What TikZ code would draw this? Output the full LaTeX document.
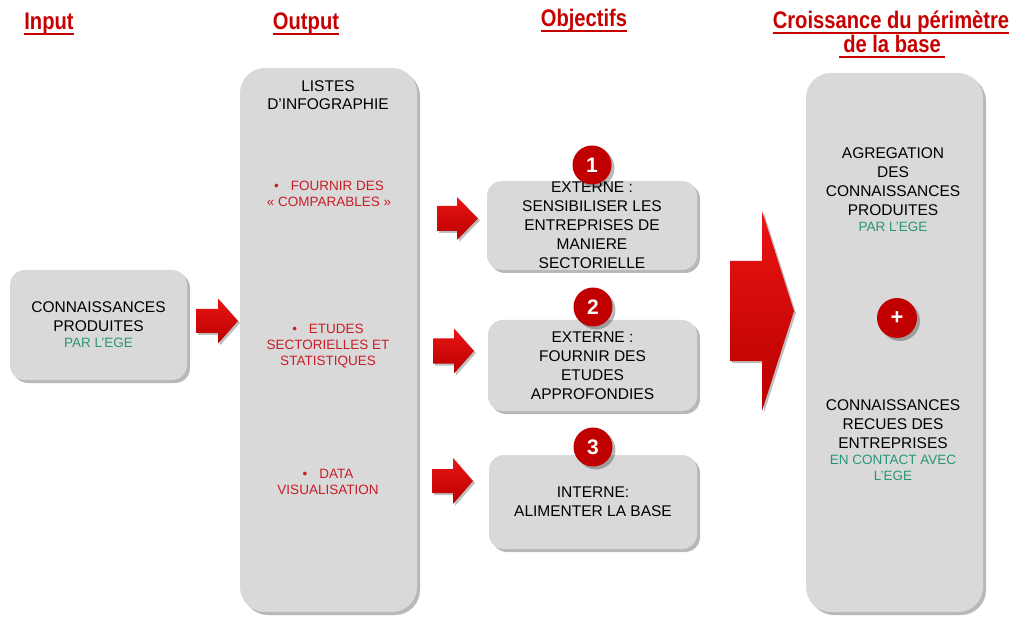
\documentclass[tikz,border=0pt]{standalone}
\usepackage{fontspec}
\setmainfont{Liberation Sans}
\newfontfamily\titlefont[FakeStretch=0.84]{Liberation Sans}
\usetikzlibrary{shadows,calc}
\definecolor{boxgray}{RGB}{217,217,217}
\definecolor{titlered}{RGB}{200,0,0}
\definecolor{txtred}{RGB}{200,30,40}
\definecolor{egegreen}{RGB}{40,150,120}
\definecolor{circred}{RGB}{192,0,0}
\definecolor{arrlight}{RGB}{235,20,20}
\definecolor{arrdark}{RGB}{185,0,0}
\newcommand\egetxt[1]{{\color{egegreen}\fontsize{13.5}{16}\selectfont #1}}
\newcommand\blockarrow[5]{%
  \path[arrowshape] ($(#1)+(0,-#3)$) -- ($(#2)+(-#5,-#3)$) -- ($(#2)+(-#5,-#4)$)
    -- (#2) -- ($(#2)+(-#5,#4)$) -- ($(#2)+(-#5,#3)$) -- ($(#1)+(0,#3)$) -- cycle;}
\tikzset{
  boxshadow/.style={drop shadow={shadow xshift=3pt, shadow yshift=-3pt, fill=black, opacity=0.28}},
  graybox/.style={fill=boxgray, boxshadow, align=center, inner sep=0pt,
    font=\fontsize{15.5}{19}\selectfont},
  plaintxt/.style={align=center, inner sep=0pt, font=\fontsize{15.5}{19}\selectfont},
  redtxt/.style={align=center, inner sep=0pt, text=txtred, font=\fontsize{13.5}{16}\selectfont},
  titletxt/.style={inner sep=0pt, anchor=base, text=titlered,
    font=\titlefont\bfseries\fontsize{24}{24}\selectfont},
  titleline/.style={titlered, line width=2pt},
  arrowshape/.style={top color=arrlight, bottom color=arrdark, draw=none,
    drop shadow={shadow xshift=2pt, shadow yshift=-2pt, fill=black, opacity=0.25}},
  numcirc/.style={circle, fill=circred, text=white, inner sep=0pt, minimum size=39pt,
    font=\bfseries\fontsize{21}{21}\selectfont, boxshadow},
}
\begin{document}
\begin{tikzpicture}[x=1pt,y=-1pt]
\useasboundingbox[fill=white] (0,0) rectangle (1014,617);

% titles
\node[titletxt] (tin) at (49,30) {Input};
\node[titletxt] (tout) at (306,30) {Output};
\node[titletxt] (tobj) at (584,27) {Objectifs};
\node[titletxt] (tcr1) at (891,29) {Croissance du périmètre};
\node[titletxt] (tcr2) at (892,53) {de la base};
\draw[titleline] ([yshift=-4pt]tin.base west) -- ([yshift=-4pt]tin.base east);
\draw[titleline] ([yshift=-4pt]tout.base west) -- ([yshift=-4pt]tout.base east);
\draw[titleline] ([yshift=-4pt]tobj.base west) -- ([yshift=-4pt]tobj.base east);
\draw[titleline] ([yshift=-4pt]tcr1.base west) -- ([yshift=-4pt]tcr1.base east);
\draw[titleline] ([yshift=-4pt,xshift=-4pt]tcr2.base west) -- ([yshift=-4pt,xshift=4pt]tcr2.base east);

% input box
\node[graybox, rounded corners=15pt, minimum width=177pt, minimum height=110pt] (inbox) at (98.5,325)
  {CONNAISSANCES\\PRODUITES\\[-3pt]\egetxt{PAR L’EGE}};

% output box
\node[graybox, rounded corners=25pt, minimum width=177pt, minimum height=544pt] (outbox) at (328.5,340) {};
\node[plaintxt] (olist) at (328,95) {LISTES\\[-1pt]D’INFOGRAPHIE};
\node[redtxt] (o1) at (329,194) {•\hspace{12pt}FOURNIR DES\\« COMPARABLES »};
\node[redtxt] (o2) at (328,346) {•\hspace{12pt}ETUDES\\SECTORIELLES ET\\STATISTIQUES};
\node[redtxt] (o3) at (328,482) {•\hspace{12pt}DATA\\VISUALISATION};

% objective boxes
\node[graybox, rounded corners=15pt, minimum width=210pt, minimum height=89pt] (obj1) at (592,225.5)
  {EXTERNE :\\SENSIBILISER LES\\ENTREPRISES DE\\MANIERE\\SECTORIELLE};
\node[graybox, rounded corners=15pt, minimum width=209pt, minimum height=91pt] (obj2) at (592.5,365.5)
  {EXTERNE :\\FOURNIR DES\\ETUDES\\APPROFONDIES};
\node[graybox, rounded corners=15pt, minimum width=208pt, minimum height=94pt] (obj3) at (593,502)
  {INTERNE:\\ALIMENTER LA BASE};

% number circles
\node[numcirc] (n1) at (592,165) {1};
\node[numcirc] (n2) at (593,307) {2};
\node[numcirc] (n3) at (593,447) {3};

% right box
\node[graybox, rounded corners=25pt, minimum width=177pt, minimum height=539pt] (rbox) at (894.5,342.5) {};
\node[plaintxt] (r1) at (893,190) {AGREGATION\\DES\\CONNAISSANCES\\PRODUITES\\[-3pt]\egetxt{PAR L’EGE}};
\node[circle, fill=circred, text=white, inner sep=0pt, minimum size=40pt,
  font=\bfseries\fontsize{22}{22}\selectfont, boxshadow] (plus) at (897,318) {+};
\node[plaintxt] (r2) at (893,440) {CONNAISSANCES\\RECUES DES\\ENTREPRISES\\[-3pt]\egetxt{EN CONTACT AVEC}\\[-3pt]\egetxt{L’EGE}};

% arrow end points
\coordinate (a0s) at (196,321);
\coordinate (a0e) at (238,321);
\coordinate (a1s) at (437,218.5);
\coordinate (a1e) at (478,218.5);
\coordinate (a2s) at (433,351);
\coordinate (a2e) at (474,351);
\coordinate (a3s) at (432,481);
\coordinate (a3e) at (473,481);
\coordinate (abs) at (730,311);
\coordinate (abe) at (794,311);

\blockarrow{a0s}{a0e}{12}{22.5}{20}
\blockarrow{a1s}{a1e}{12.5}{21.5}{21}
\blockarrow{a2s}{a2e}{12.5}{22.5}{20}
\blockarrow{a3s}{a3e}{12}{23}{20}
\blockarrow{abs}{abe}{50}{100}{32}
\end{tikzpicture}
\end{document}
